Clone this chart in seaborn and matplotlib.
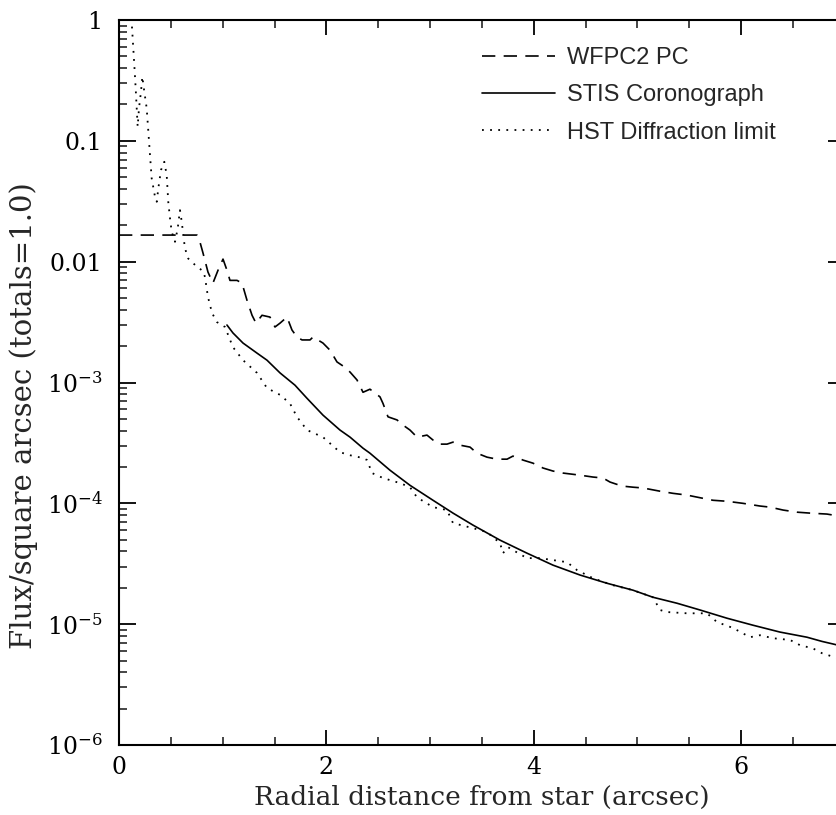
import numpy as np
import pandas as pd
import matplotlib
matplotlib.use("Agg")
import matplotlib.pyplot as plt
import matplotlib.ticker as mticker
import seaborn as sns

# WFPC2 PC radial profile (dashed)
wfpc_x = [0.0, 0.752, 0.781, 0.810, 0.858, 0.906, 0.955, 1.003, 1.041, 1.070, 1.138, 1.186,
          1.234, 1.283, 1.321, 1.379, 1.456, 1.504, 1.553, 1.620, 1.668, 1.716, 1.765, 1.842,
          1.871, 1.967, 2.035, 2.102, 2.160, 2.228, 2.295, 2.353, 2.420, 2.517, 2.546, 2.594,
          2.681, 2.739, 2.806, 2.874, 2.970, 3.028, 3.095, 3.163, 3.221, 3.288, 3.385, 3.452,
          3.549, 3.645, 3.742, 3.799, 3.896, 3.992, 4.089, 4.185, 4.282, 4.446, 4.571, 4.667,
          4.735, 4.850, 4.957, 5.053, 5.217, 5.342, 5.477, 5.632, 5.728, 5.863, 6.017, 6.181,
          6.278, 6.403, 6.538, 6.663, 6.827, 7.0]
wfpc_y = [0.0166, 0.0166, 0.0145, 0.0118, 0.0082, 0.00665, 0.0085, 0.0105, 0.0085, 0.0070,
          0.0070, 0.00665, 0.0048, 0.0036, 0.0031, 0.0036, 0.00348, 0.00288, 0.0031, 0.00348,
          0.00272, 0.00238, 0.00225, 0.00225, 0.00238, 0.00212, 0.00185, 0.00148, 0.00137,
          0.00122, 0.00105, 0.00083, 0.00088, 0.00076, 0.00067, 0.00052, 0.00049, 0.000444,
          0.000404, 0.000353, 0.000367, 0.000334, 0.000309, 0.000309, 0.000321, 0.000303,
          0.000292, 0.00026, 0.000241, 0.000232, 0.000232, 0.000246, 0.000228, 0.000215,
          0.000196, 0.000185, 0.000178, 0.000171, 0.000165, 0.000162, 0.000150, 0.000139,
          0.000136, 0.000134, 0.000126, 0.000121, 0.000117, 0.000110, 0.000106, 0.000104,
          0.000100, 9.5e-5, 9.3e-5, 8.8e-5, 8.45e-5, 8.3e-5, 8.15e-5, 7.7e-5]

# STIS coronograph profile (solid)
stis_x = [1.041, 1.099, 1.196, 1.331, 1.427, 1.553, 1.697, 1.813, 1.967, 2.131, 2.228, 2.353,
          2.420, 2.613, 2.806, 3.028, 3.221, 3.414, 3.674, 3.934, 4.185, 4.446, 4.706, 4.957,
          5.149, 5.381, 5.603, 5.863, 6.114, 6.374, 6.634, 6.779, 7.0]
stis_y = [0.00299, 0.00257, 0.00212, 0.00175, 0.00153, 0.0012, 0.00095, 0.00074, 0.000537,
          0.000404, 0.000353, 0.000286, 0.00026, 0.000188, 0.000141, 0.000106, 8.3e-5, 6.6e-5,
          4.96e-5, 3.87e-5, 3.08e-5, 2.55e-5, 2.18e-5, 1.91e-5, 1.67e-5, 1.49e-5, 1.31e-5,
          1.12e-5, 9.8e-6, 8.6e-6, 7.8e-6, 7.2e-6, 6.5e-6]

# HST diffraction limit (dotted)
hst_x = [0.110, 0.122, 0.148, 0.161, 0.180, 0.193, 0.212, 0.225, 0.244, 0.267, 0.283, 0.299,
         0.315, 0.347, 0.364, 0.379, 0.405, 0.437, 0.460, 0.475, 0.492, 0.508, 0.540, 0.566,
         0.588, 0.605, 0.620, 0.636, 0.668, 0.733, 0.813, 0.829, 0.858, 0.897, 0.945, 1.022,
         1.099, 1.196, 1.331, 1.427, 1.553, 1.649, 1.716, 1.813, 1.967, 2.131, 2.228, 2.353,
         2.392, 2.440, 2.546, 2.710, 2.806, 2.874, 3.028, 3.163, 3.221, 3.414, 3.549, 3.674,
         3.703, 3.751, 3.799, 3.934, 4.060, 4.185, 4.320, 4.417, 4.571, 4.764, 4.957, 5.149,
         5.217, 5.284, 5.477, 5.670, 5.767, 5.921, 6.085, 6.181, 6.307, 6.471, 6.567, 6.692,
         6.779, 7.0]
hst_y = [1.2, 0.97, 0.42, 0.27, 0.131, 0.187, 0.255, 0.34, 0.255, 0.186, 0.119, 0.076, 0.049,
         0.0345, 0.0313, 0.0404, 0.0573, 0.0671, 0.052, 0.0313, 0.0228, 0.0177, 0.0146, 0.0188,
         0.0267, 0.0214, 0.0166, 0.0129, 0.0106, 0.0094, 0.0083, 0.00746, 0.0051, 0.00376,
         0.00316, 0.00288, 0.00196, 0.00153, 0.0012, 0.0009, 0.00079, 0.00067, 0.00052,
         0.000404, 0.000353, 0.000265, 0.00025, 0.000237, 0.000228, 0.000178, 0.000162,
         0.000147, 0.000136, 0.000112, 9.3e-5, 8.8e-5, 6.86e-5, 6.23e-5, 5.78e-5, 4.69e-5,
         3.87e-5, 4.34e-5, 4.1e-5, 3.52e-5, 3.52e-5, 3.39e-5, 3.26e-5, 2.8e-5, 2.4e-5, 2.1e-5,
         1.91e-5, 1.67e-5, 1.31e-5, 1.26e-5, 1.23e-5, 1.23e-5, 1.04e-5, 9.3e-6, 7.8e-6, 8.1e-6,
         7.65e-6, 7.4e-6, 6.7e-6, 6.3e-6, 5.75e-6, 5.0e-6]

y_ticks = [1e-6, 1e-5, 1e-4, 1e-3, 0.01, 0.1, 1]
x_ticks = [0, 2, 4, 6]

sns.set_style("ticks")
plt.rcParams['font.family'] = ['DejaVu Serif']
plt.rcParams['mathtext.fontset'] = 'dejavuserif'

fig = plt.figure(figsize=(8.37, 8.15), dpi=100)
# right spine sits just past the figure edge, as in the cropped original
ax = fig.add_axes([119 / 837, 70 / 815, (7 * 103.7) / 837, 725 / 815])

sns.lineplot(x=wfpc_x, y=wfpc_y, ax=ax, color="black", linewidth=1.2,
             linestyle=(0, (8, 5)), label="WFPC2 PC", estimator=None, sort=False)
sns.lineplot(x=stis_x, y=stis_y, ax=ax, color="black", linewidth=1.2,
             linestyle="-", label="STIS Coronograph", estimator=None, sort=False)
sns.lineplot(x=hst_x, y=hst_y, ax=ax, color="black", linewidth=1.3,
             linestyle=(0, (1, 3.5)), label="HST Diffraction limit", estimator=None, sort=False)

ax.set_yscale("log")
ax.set_xlim(0, 7)
ax.set_ylim(1e-6, 1)
ax.set_xticks(x_ticks)
ax.xaxis.set_minor_locator(mticker.MultipleLocator(0.5))
ax.set_yticks(y_ticks)
ax.yaxis.set_minor_locator(mticker.LogLocator(base=10, subs=np.arange(2, 10), numticks=20))
ax.yaxis.set_minor_formatter(mticker.NullFormatter())


def yfmt(v, pos):
    if v >= 0.01:
        return "%g" % v
    return r"$10^{%d}$" % int(round(np.log10(v)))


ax.yaxis.set_major_formatter(mticker.FuncFormatter(yfmt))

for s in ax.spines.values():
    s.set_linewidth(1.5)
    s.set_color("black")
ax.tick_params(axis="x", which="major", direction="in", length=11, width=1.3,
               top=True, bottom=True, labelsize=17, pad=8, colors="black")
ax.tick_params(axis="x", which="minor", direction="in", length=5.5, width=1.2,
               top=True, bottom=True)
ax.tick_params(axis="y", which="major", direction="in", length=12, width=1.3,
               left=True, right=True, labelsize=17, pad=12, colors="black")
ax.tick_params(axis="y", which="minor", direction="in", length=5.5, width=1.2,
               left=True, right=True)

ax.set_xlabel("Radial distance from star (arcsec)", fontsize=19, labelpad=4)
ax.set_ylabel("Flux/square arcsec (totals=1.0)", fontsize=21)
ax.yaxis.set_label_coords(-0.111, 0.454)

ax.legend(loc="upper left", bbox_to_anchor=(0.5035 * 721 / 726, 0.963), frameon=False,
          prop={"family": "Liberation Sans", "size": 17}, handlelength=3.1,
          handletextpad=0.5, labelspacing=0.65, borderpad=0, borderaxespad=0)

plt.savefig("out.png", dpi=100)
